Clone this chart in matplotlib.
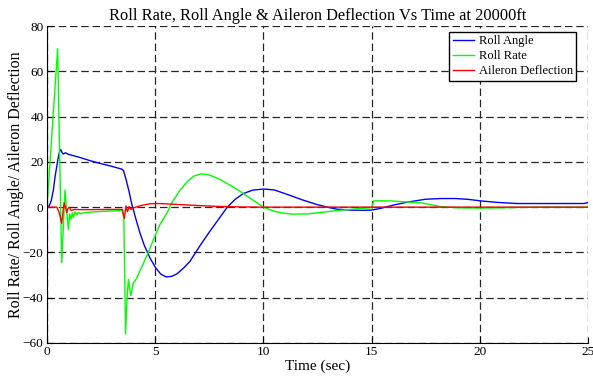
import matplotlib
matplotlib.use("Agg")
import matplotlib.pyplot as plt

plt.rcParams['font.family'] = ['Liberation Serif', 'DejaVu Serif']

# roll angle (deg)
t_angle = [0, 0.1, 0.2, 0.3, 0.37, 0.45, 0.52, 0.58, 0.63, 0.7, 0.75, 0.85, 1.0,
           1.5, 2.0, 2.5, 3.0, 3.45, 3.53, 3.6, 3.68, 3.8, 3.91, 4.1, 4.3, 4.5,
           4.76, 5.0, 5.25, 5.5, 5.75, 6.0, 6.3, 6.6, 7.07, 7.5, 7.84, 8.33, 8.7,
           9.07, 9.5, 10.0, 10.5, 11.2, 11.8, 12.46, 13.0, 13.4, 14.0, 14.6, 15.0,
           15.4, 16.0, 16.7, 17.5, 18.2, 18.9, 19.5, 20.0, 20.8, 21.7, 23.0, 24.0,
           24.8, 25.0]
roll_angle = [0, 0.5, 3, 8, 13.4, 18, 22, 24.5, 25.5, 24, 23.5, 24, 23.3,
              22, 20.5, 19.2, 18, 16.8, 16.2, 14, 11.2, 6.5, 1.6, -5, -11.6, -17,
              -22.5, -26.5, -29.5, -30.8, -30.6, -29.5, -27, -24, -17, -11, -6.5, 0, 3.5,
              6, 7.5, 8.0, 7.6, 5.3, 3.2, 1.2, -0.1, -0.9, -1.3, -1.4, -1.3,
              -0.6, 0.9, 2.3, 3.5, 3.8, 3.8, 3.4, 2.8, 2.1, 1.6, 1.6, 1.6,
              1.6, 2.0]

# roll rate (deg/s)
t_rate = [0, 0.49, 0.68, 0.83, 0.92, 0.99, 1.05, 1.1, 1.17, 1.22, 1.3, 1.38, 1.46,
          1.55, 1.7, 2.0, 2.5, 3.0, 3.48, 3.55, 3.63, 3.7, 3.76, 3.87, 3.99, 4.14,
          4.3, 4.45, 4.7, 4.91, 5.2, 5.53, 5.8, 6.15, 6.5, 6.8, 7.15, 7.5, 8.0,
          8.46, 9.0, 9.5, 10.0, 10.5, 11.0, 11.38, 12.0, 12.6, 13.3, 14.0, 14.5,
          15.0, 15.1, 15.5, 16.0, 16.6, 17.3, 18.2, 19.0, 20.0, 21.0, 22.0, 23.0, 25.0]
roll_rate = [0, 70, -24.5, 7.5, -3, -10, -3, -5.5, -2.5, -4.5, -2, -3.5, -2.3,
             -3, -2.4, -2.2, -1.9, -1.7, -1.5, -5, -56, -40, -32, -39, -33.5, -31.5,
             -28, -25, -19.5, -14.6, -8, -2.8, 2.5, 7.5, 11.5, 13.8, 14.7, 14.2, 12.2,
             9.7, 6.5, 3.2, 0, -1.8, -2.8, -3.1, -3.0, -2.4, -1.6, -1, -0.6,
             -0.2, 2.8, 2.8, 2.7, 2.3, 1.9, 0.2, -0.3, -0.4, -0.3, -0.1, 0, 0]

# aileron deflection (deg)
t_ail = [0, 0.45, 0.55, 0.68, 0.74, 0.79, 0.85, 0.91, 0.97, 1.03, 1.08, 1.13, 1.25,
         1.5, 2.0, 3.0, 3.48, 3.57, 3.65, 3.72, 3.8, 3.88, 3.95, 4.1, 4.3, 4.5,
         4.76, 5.2, 6.0, 7.0, 8.0, 9.0, 10.0, 25.0]
aileron = [0, 0, -2, -7.2, -2, 1.9, 0, -2.5, -0.5, 0, -1, -1.5, -1.0,
           -1.1, -1.1, -1.0, -1.0, -5, 0.5, -2, 0.3, -1, -0.5, 0, 0.6, 1.0,
           1.5, 1.6, 1.2, 0.7, 0.3, 0.1, 0, 0]

x_ticks = [0, 5, 10, 15, 20, 25]
y_ticks = [-60, -40, -20, 0, 20, 40, 60, 80]

fig = plt.figure(figsize=(5.93, 3.78), dpi=100)
ax = fig.add_axes([0.0793, 0.0926, 0.9123, 0.8386])

ax.plot(t_angle, roll_angle, color='#0000ff', lw=1.0, label='Roll Angle')
ax.plot(t_rate, roll_rate, color='#00ff00', lw=1.0, label='Roll Rate')
ax.plot(t_ail, aileron, color='#ff0000', lw=1.0, label='Aileron Deflection')

ax.set_xlim(0, 25)
ax.set_ylim(-60, 80)
ax.set_xticks(x_ticks)
ax.set_yticks(y_ticks)
ax.grid(True, color='0.15', linestyle=(0, (6, 3)), lw=0.9)
ax.set_axisbelow(True)
ax.spines['top'].set_visible(False)
ax.spines['right'].set_visible(False)
ax.tick_params(direction='in', length=4, labelsize=9.5, top=False, right=False, pad=2.5)

ax.set_title('Roll Rate, Roll Angle & Aileron Deflection Vs Time at 20000ft', fontsize=11.8, pad=4)
ax.set_xlabel('Time (sec)', fontsize=11, labelpad=1)
ax.set_ylabel('Roll Rate/ Roll Angle/ Aileron Deflection', fontsize=11.5)
ax.yaxis.set_label_coords(-0.043, 0.5)

leg = ax.legend(loc='upper right', bbox_to_anchor=(0.978, 0.981), borderaxespad=0,
                fontsize=9, fancybox=False, framealpha=1, edgecolor='black',
                handlelength=1.7, borderpad=0.25, labelspacing=0.25, handletextpad=0.4)
leg.get_frame().set_linewidth(1.0)

fig.savefig('out.png', dpi=100)
